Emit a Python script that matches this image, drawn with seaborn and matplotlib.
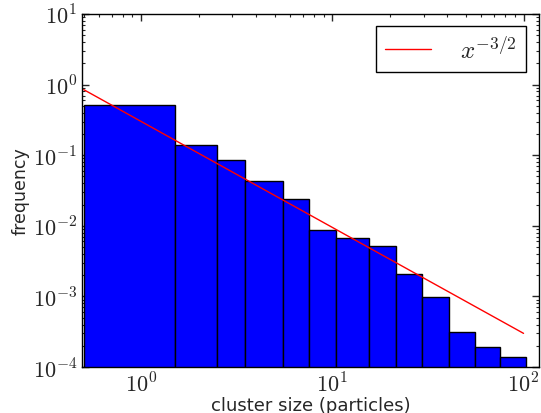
import numpy as np
import pandas as pd
import seaborn as sns
import matplotlib.pyplot as plt
from matplotlib.ticker import FuncFormatter, LogLocator

# bin edges (cluster size, particles) and frequency per bin
bin_edges = [0.5, 1.5, 2.5, 3.5, 5.5, 7.5, 10.5, 15.5, 21.5, 29.5, 40.5, 55.5, 75.5, 103.5]
frequency = [0.51, 0.141, 0.085, 0.0426, 0.024, 0.0087, 0.0067, 0.0051,
             0.0021, 0.00098, 0.00031, 0.000194, 0.000137]
# power law guide line
line_coef = 0.3
line_range = [0.5, 100]

sns.set_style("ticks", {"xtick.direction": "in", "ytick.direction": "in",
                        "axes.edgecolor": "black"})
plt.rcParams["mathtext.fontset"] = "cm"
plt.rcParams["font.family"] = ["DejaVu Sans"]

fig, ax = plt.subplots(figsize=(5.41, 4.14), dpi=100)
fig.subplots_adjust(left=0.1516, right=0.9957, bottom=0.111, top=0.9638)

edges = np.array(bin_edges)
df = pd.DataFrame({"size": (edges[:-1] + edges[1:]) / 2, "freq": frequency})
sns.histplot(data=df, x="size", weights="freq", bins=list(bin_edges), color="#0000ff",
             edgecolor="black", linewidth=1, alpha=1, ax=ax)

xs = np.logspace(np.log10(line_range[0]), np.log10(line_range[1]), 50)
sns.lineplot(x=xs, y=line_coef * xs ** -1.5, color="red", lw=1,
             label=r"$x^{-3/2}$", ax=ax)

ax.set_xscale("log")
ax.set_yscale("log")
ax.set_xlim(0.49, 120)
ax.set_ylim(1e-4, 10)

fmt = FuncFormatter(lambda v, p: r"$10^{%d}$" % round(np.log10(v)))
ax.xaxis.set_major_formatter(fmt)
ax.yaxis.set_major_formatter(fmt)
ax.xaxis.set_major_locator(LogLocator(base=10, numticks=10))
ax.yaxis.set_major_locator(LogLocator(base=10, numticks=10))
ax.tick_params(which="both", top=True, right=True, direction="in", labelsize=16)
ax.tick_params(which="major", length=5, width=1)
ax.tick_params(which="minor", length=2.5, width=0.8)
for s in ax.spines.values():
    s.set_linewidth(1)
    s.set_color("black")

ax.set_xlabel("cluster size (particles)", fontsize=13, labelpad=0)
ax.set_ylabel("frequency", fontsize=12.5, labelpad=2)

leg = ax.legend(loc="upper right", fontsize=18, fancybox=False, framealpha=1,
                edgecolor="black", handlelength=1.85, handletextpad=1.15,
                borderpad=0.37, borderaxespad=0.5)
leg.get_frame().set_linewidth(1)

fig.savefig("out.png", dpi=100)
